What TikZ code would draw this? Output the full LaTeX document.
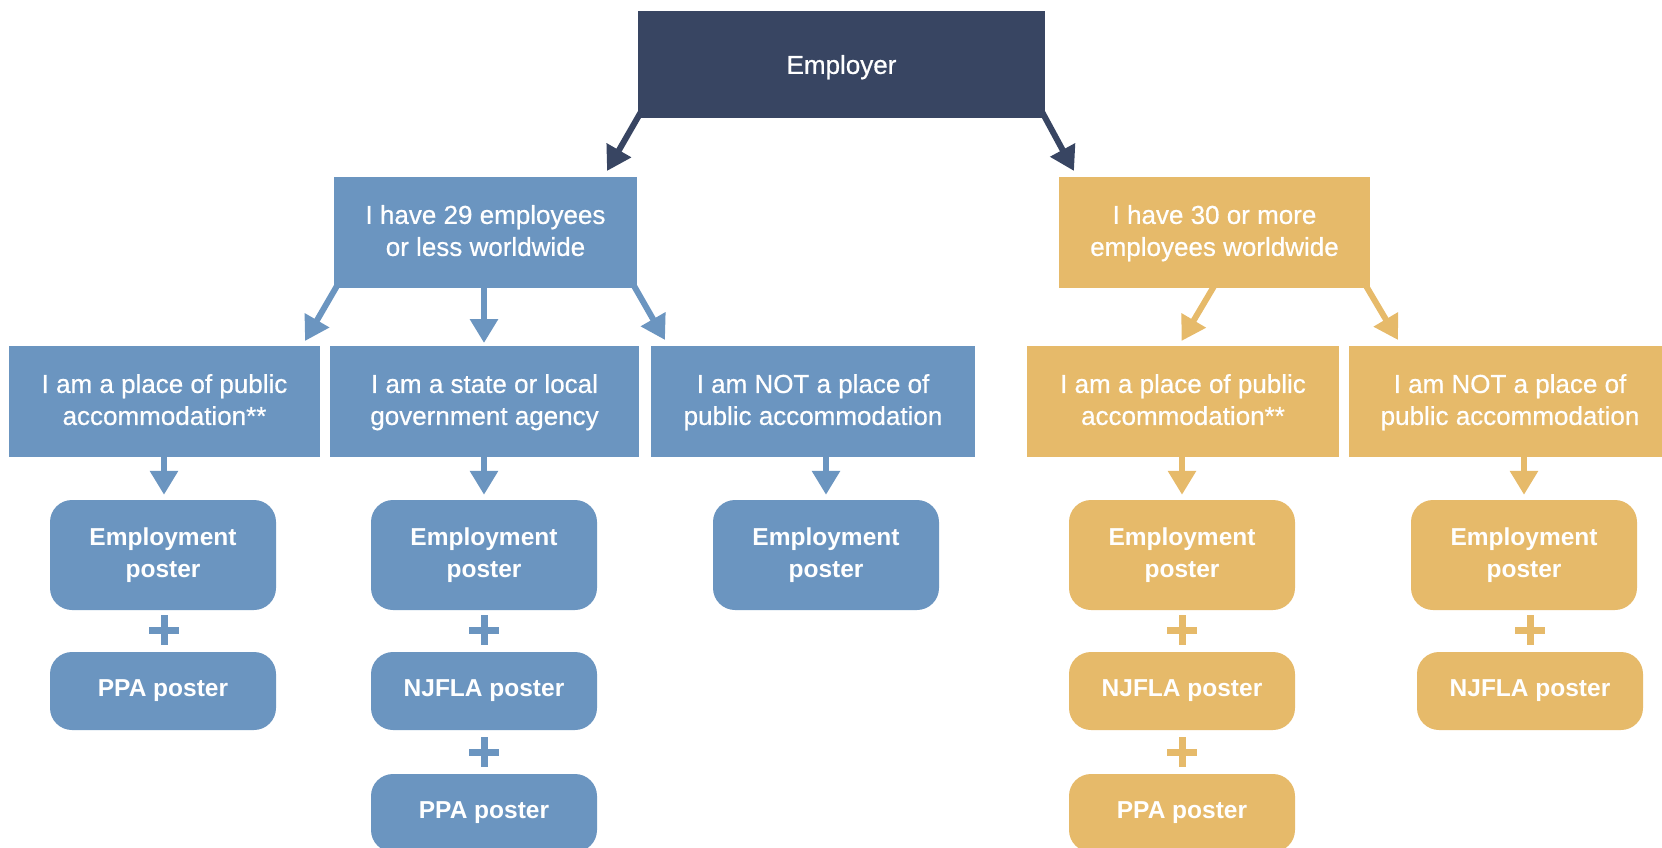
\documentclass[tikz,border=0pt]{standalone}
\usepackage{fontspec}
\setmainfont{Liberation Sans}
\newfontfamily\medfont{Liberation Sans}[FakeBold=0.6]
\usetikzlibrary{arrows.meta,calc}
\definecolor{navy}{HTML}{384562}
\definecolor{blu}{HTML}{6B95C0}
\definecolor{yel}{HTML}{E6BA6A}
\begin{document}
\begin{tikzpicture}[x=1pt,y=-1pt,
  box/.style={rectangle, inner sep=0pt, align=center, text=white, font=\medfont\fontsize{26}{32}\selectfont},
  lvl/.style={box, minimum height=111pt, text depth=4pt},
  post/.style={rectangle, rounded corners=22pt, inner sep=0pt, align=center, text=white,
    font=\bfseries\fontsize{24.5}{32}\selectfont, minimum width=226pt},
  tall/.style={post, minimum height=110pt},
  short/.style={post, minimum height=78pt},
  arr/.style={line width=6pt, -{Triangle[length=24pt,width=27pt]}},
  plus/.style={line width=7pt},
]
\useasboundingbox (0,0) rectangle (1662,848);
\clip (0,0) rectangle (1662,848);

% top
\node[box, fill=navy, minimum width=407pt, minimum height=107pt, text depth=0pt] (emp) at (841.5,64.5) {Employer};
\node[lvl, fill=blu, minimum width=303pt] (b0) at (485.5,232.5) {I have 29 employees\\or less worldwide};
\node[lvl, fill=yel, minimum width=311pt] (y0) at (1214.5,232.5) {I have 30 or more\\employees worldwide};

% level 2
\node[lvl, fill=blu, minimum width=311pt] (b1) at (164.5,401.5) {I am a place of public\\accommodation**};
\node[lvl, fill=blu, minimum width=309pt] (b2) at (484.5,401.5) {I am a state or local\\government agency};
\node[lvl, fill=blu, minimum width=324pt] (b3) at (813,401.5) {I am NOT a place of\\public accommodation};
\node[lvl, fill=yel, minimum width=312pt] (y1) at (1183,401.5) {I am a place of public\\accommodation**};
\node[lvl, fill=yel, minimum width=322pt] (y2) at (1510,401.5) {I am NOT a place of\\public accommodation};

% posters
\node[tall, fill=blu] (b1e) at (163,555) {Employment\\poster};
\node[short, fill=blu] (b1p) at (163,691) {PPA poster};
\node[tall, fill=blu] (b2e) at (484,555) {Employment\\poster};
\node[short, fill=blu] (b2n) at (484,691) {NJFLA poster};
\node[short, fill=blu] (b2p) at (484,813) {PPA poster};
\node[tall, fill=blu] (b3e) at (826,555) {Employment\\poster};
\node[tall, fill=yel] (y1e) at (1182,555) {Employment\\poster};
\node[short, fill=yel] (y1n) at (1182,691) {NJFLA poster};
\node[short, fill=yel] (y1p) at (1182,813) {PPA poster};
\node[tall, fill=yel] (y2e) at (1524,555) {Employment\\poster};
\node[short, fill=yel] (y2n) at (1530,691) {NJFLA poster};

% arrow tips
\coordinate (tb0) at (607,171);
\coordinate (ty0) at (1074,171);
\coordinate (tb1) at (305,341);
\coordinate (tb2) at (484,343);
\coordinate (tb3) at (665,340);
\coordinate (ty1) at (1181.5,341);
\coordinate (ty2) at (1398,340);

\draw[arr, navy] ($(emp.south west)+(3,-6)$) -- (tb0);
\draw[arr, navy] ($(emp.south east)+(-3,-6)$) -- (ty0);
\draw[arr, blu] ($(b0.south west)+(3,-2)$) -- (tb1);
\draw[arr, blu] ($(b0.south)+(-1.5,-2)$) -- (tb2);
\draw[arr, blu] ($(b0.south east)+(-3,-2)$) -- (tb3);
\draw[arr, yel] ($(y0.south)+(-0.5,-2)$) -- (ty1);
\draw[arr, yel] ($(y0.south east)+(-4,-2)$) -- (ty2);

% down arrows
\draw[arr, blu] ($(b1.south)+(-0.5,-2)$) -- ($(b1e.north)+(1,-5)$);
\draw[arr, blu] ($(b2.south)+(-0.5,-2)$) -- ($(b2e.north)+(0,-5)$);
\draw[arr, blu] (b3.south -| b3e.north) ++(0,-2) -- ($(b3e.north)+(0,-5)$);
\draw[arr, yel] ($(y1.south)+(-1,-2)$) -- ($(y1e.north)+(0,-5)$);
\draw[arr, yel] (y2.south -| y2e.north) ++(0,-2) -- ($(y2e.north)+(0,-5)$);

% plus signs
\foreach \px/\py/\c in {164/630/blu, 484/630/blu, 484/752/blu, 1182/630/yel, 1182/752/yel, 1530/630/yel}
  \draw[plus, \c] ({\px-15},\py) -- ({\px+15},\py) (\px,{\py-15}) -- (\px,{\py+15});
\end{tikzpicture}
\end{document}
